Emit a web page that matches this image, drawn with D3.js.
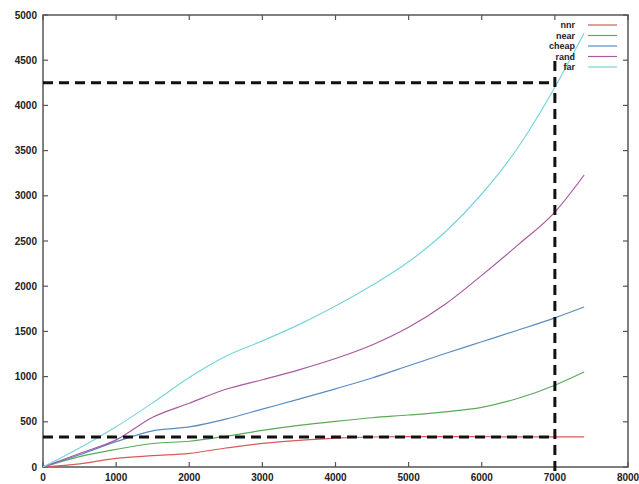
<!DOCTYPE html>
<html>
<head>
<meta charset="utf-8">
<script src="https://cdn.jsdelivr.net/npm/d3@7"></script>
<style>
  html, body { margin: 0; padding: 0; background: #fff; }
  svg { display: block; }
  .tick-label { font-family: "Liberation Sans", Arial, sans-serif; font-weight: bold; font-size: 10px; fill: #222; }
  .legend-label { font-family: "Liberation Sans", Arial, sans-serif; font-weight: bold; font-size: 9px; fill: #222; }
</style>
</head>
<body>
<svg id="chart" width="639" height="484"></svg>
<script>
// Sample sizes along the x axis
const xs = [0, 500, 1000, 1500, 2000, 2500, 3000, 3500, 4000, 4500, 5000, 5500, 6000, 6500, 7000, 7400];

// Cost per strategy at each sample size
const nnr   = [0, 35, 95, 125, 150, 210, 262, 295, 320, 332, 335, 335, 335, 333, 333, 333];
const near  = [0, 115, 195, 260, 285, 340, 405, 460, 505, 545, 575, 610, 660, 760, 905, 1050];
const cheap = [0, 135, 280, 400, 443, 530, 640, 750, 865, 985, 1120, 1255, 1385, 1515, 1650, 1770];
const rand  = [0, 150, 300, 550, 705, 860, 965, 1075, 1200, 1350, 1545, 1800, 2120, 2460, 2820, 3230];
const far   = [0, 210, 445, 710, 990, 1225, 1395, 1575, 1780, 2010, 2270, 2600, 3020, 3540, 4200, 4800];

const seriesNames  = ["nnr", "near", "cheap", "rand", "far"];
const seriesValues = [nnr, near, cheap, rand, far];
const seriesColors = ["#d85a5a", "#5aaa5a", "#5a8cc0", "#a85aa0", "#78d4dc"];

// Axis ticks
const xTicks = [0, 1000, 2000, 3000, 4000, 5000, 6000, 7000, 8000];
const yTicks = [0, 500, 1000, 1500, 2000, 2500, 3000, 3500, 4000, 4500, 5000];

// Reference guides: a dashed vertical at x = 7000 and two dashed horizontals
const guideX = 7000;
const guideYs = [4250, 333];
const guideTop = 4500;

const svg = d3.select("#chart");
const m = { left: 43, right: 628, top: 15, bottom: 467 };

const x = d3.scaleLinear().domain([0, 8000]).range([m.left, m.right]);
const y = d3.scaleLinear().domain([0, 5000]).range([m.bottom, m.top]);

// Clip for data
svg.append("defs").append("clipPath").attr("id", "plot-clip")
  .append("rect").attr("x", m.left).attr("y", m.top)
  .attr("width", m.right - m.left).attr("height", m.bottom - m.top);

// Frame
svg.append("rect")
  .attr("x", m.left).attr("y", m.top).attr("width", m.right - m.left).attr("height", m.bottom - m.top)
  .attr("fill", "none").attr("stroke", "#555").attr("stroke-width", 1.5);

// Ticks mirrored on all four sides, pointing inward
const tickLen = 5;
const tickG = svg.append("g").attr("stroke", "#555").attr("stroke-width", 1.2);
xTicks.forEach(t => {
  tickG.append("line").attr("x1", x(t)).attr("x2", x(t)).attr("y1", m.bottom).attr("y2", m.bottom - tickLen);
  tickG.append("line").attr("x1", x(t)).attr("x2", x(t)).attr("y1", m.top).attr("y2", m.top + tickLen);
});
yTicks.forEach(t => {
  tickG.append("line").attr("x1", m.left).attr("x2", m.left + tickLen).attr("y1", y(t)).attr("y2", y(t));
  tickG.append("line").attr("x1", m.right).attr("x2", m.right - tickLen).attr("y1", y(t)).attr("y2", y(t));
});

// Tick labels
svg.append("g").selectAll("text").data(xTicks).join("text")
  .attr("class", "tick-label")
  .attr("x", d => x(d)).attr("y", 481)
  .attr("text-anchor", "middle")
  .text(d => d);
svg.append("g").selectAll("text").data(yTicks).join("text")
  .attr("class", "tick-label")
  .attr("x", 37).attr("y", d => y(d)).attr("dy", "0.35em")
  .attr("text-anchor", "end")
  .text(d => d);

// Series lines
const line = d3.line()
  .x(d => x(d[0]))
  .y(d => y(d[1]))
  .curve(d3.curveMonotoneX);

const plot = svg.append("g").attr("clip-path", "url(#plot-clip)");
seriesValues.forEach((vals, i) => {
  plot.append("path")
    .datum(xs.map((xv, j) => [xv, vals[j]]))
    .attr("fill", "none")
    .attr("stroke", seriesColors[i])
    .attr("stroke-width", 1.2)
    .attr("d", line);
});

// Dashed guides
const guides = svg.append("g")
  .attr("stroke", "#111").attr("stroke-width", 3).attr("stroke-dasharray", "10,6").attr("fill", "none");
guideYs.forEach(v => {
  guides.append("line").attr("x1", m.left).attr("x2", x(guideX)).attr("y1", y(v)).attr("y2", y(v));
});
guides.append("line").attr("x1", x(guideX)).attr("x2", x(guideX)).attr("y1", m.bottom + 4).attr("y2", y(guideTop));

// Legend
const legend = svg.append("g");
seriesNames.forEach((name, i) => {
  const ly = 25 + i * 10.5;
  legend.append("text").attr("class", "legend-label")
    .attr("x", 575).attr("y", ly).attr("dy", "0.35em").attr("text-anchor", "end").text(name);
  legend.append("line")
    .attr("x1", 588).attr("x2", 617).attr("y1", ly).attr("y2", ly)
    .attr("stroke", seriesColors[i]).attr("stroke-width", 1.2);
});
</script>
</body>
</html>
